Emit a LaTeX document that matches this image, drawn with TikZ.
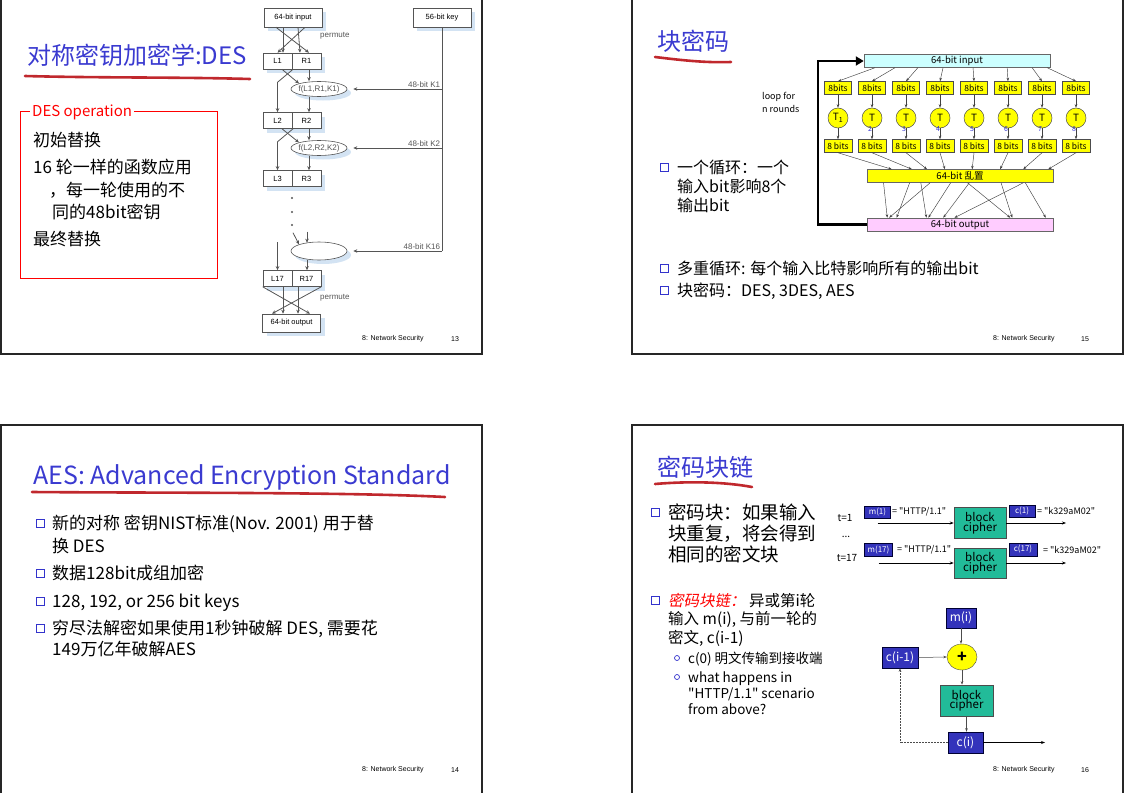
\documentclass[tikz,border=0pt]{standalone}
\usepackage{fontspec}
\setmainfont{Noto Sans CJK SC}
\newfontfamily\arialf{Liberation Sans}
\newfontfamily\qtf{Noto Sans CJK SC}
\newfontfamily\cjkit[FakeSlant=0.2]{Noto Sans CJK SC}
\usetikzlibrary{arrows.meta,shapes.geometric,shadows,calc}
\definecolor{TitleBlue}{HTML}{3A3AD0}
\definecolor{ULRed}{HTML}{C0282D}
\definecolor{BulBlue}{HTML}{3333CC}
\definecolor{DesShadow}{HTML}{D3E3F3}
\definecolor{DesLine}{HTML}{555555}
\definecolor{BoxYellow}{HTML}{FFFF00}
\definecolor{BoxCyan}{HTML}{CCFFFF}
\definecolor{BoxPink}{HTML}{FFCCFF}
\definecolor{CipherGreen}{HTML}{22BB99}
\definecolor{MsgBlue}{HTML}{3333BB}

\tikzset{
  slideframe/.style={draw=black!85,line width=1.8pt},
  slidetitle/.style={anchor=base west,inner sep=0,text=TitleBlue,font=\fontsize{24}{28}\selectfont},
  titleline/.style={draw=ULRed,line width=2.6pt,line cap=round},
  bodytext/.style={anchor=base west,inner sep=0,font=\fontsize{17}{20}\selectfont},
  bulletsq/.style={draw=BulBlue,fill=white,line width=0.9pt,minimum size=8pt,inner sep=0,
    drop shadow={shadow xshift=1.4pt,shadow yshift=-1.4pt,fill=BulBlue,opacity=1}},
  subbullet/.style={circle,draw=BulBlue,line width=0.7pt,minimum size=5pt,inner sep=0},
  footer/.style={inner sep=0,font=\arialf\fontsize{7}{8}\selectfont},
  % DES flow
  desbox/.style={draw=DesLine,fill=white,line width=0.6pt,inner sep=0,minimum height=17pt,
    font=\arialf\fontsize{7.5}{9}\selectfont,
    drop shadow={shadow xshift=4pt,shadow yshift=-4pt,fill=DesShadow,opacity=1}},
  desell/.style={ellipse,desbox,minimum width=56pt},
  desarr/.style={draw=DesLine,line width=0.8pt,-{Stealth[length=4pt,width=3.5pt]}},
  desline/.style={draw=DesLine,line width=0.8pt},
  deslabel/.style={inner sep=1.5pt,font=\arialf\fontsize{8}{9}\selectfont,text=DesLine},
  % block cipher rounds
  bitbox/.style={draw=black!70,fill=BoxYellow,line width=0.5pt,inner sep=0,minimum width=27pt,
    minimum height=13pt,font=\fontsize{8.5}{9}\selectfont},
  tcirc/.style={circle,draw=black!70,fill=BoxYellow,line width=0.5pt,minimum size=20pt,inner sep=0,
    font=\fontsize{10}{10}\selectfont},
  tnum/.style={inner sep=0,text=BulBlue,font=\fontsize{7}{7}\selectfont},
  wideband/.style={draw=black!60,line width=0.5pt,inner sep=0,minimum width=186pt,minimum height=13pt,
    font=\fontsize{9.5}{10}\selectfont},
  tarr/.style={draw=black!75,line width=0.45pt,-{Stealth[length=3.5pt,width=2.5pt]}},
  looparr/.style={draw=black,line width=2.6pt,-{Triangle[length=8pt,width=9pt]}},
  % CBC
  msgbox/.style={draw=black!80!blue,fill=MsgBlue,text=white,inner sep=0,line width=0.5pt,
    font=\fontsize{8}{9}\selectfont},
  cipherbox/.style={draw=black!70,fill=CipherGreen,line width=0.6pt,inner sep=0,align=center,
    font=\fontsize{11.5}{9.5}\selectfont},
  valtext/.style={anchor=west,inner sep=0,font=\qtf\fontsize{9}{10}\selectfont},
  cbcarr/.style={draw=black,line width=0.8pt,-{Stealth[length=4pt,width=3pt]}},
  thinarr/.style={draw=black!70,line width=0.5pt,-{Stealth[length=3.5pt,width=2.5pt]}}
}

\begin{document}
\begin{tikzpicture}[x=1pt,y=-1pt]
\path[use as bounding box] (0,0) rectangle (1126,792);

% ---- slide 13
\draw[slideframe] (1,-10) rectangle (482,354);
\node[slidetitle] (title13) at (27,64) {对称密钥加密学:DES};
\draw[titleline] (25,76) .. controls (100,78) and (180,77) .. (250,79);
\draw[red,line width=0.9pt] (20,111) rectangle (217,278);
\node[anchor=west,fill=white,inner xsep=2pt,inner ysep=1pt,text=red,font=\fontsize{15}{16}\selectfont] (opname) at (30,112) {DES operation};
\node[bodytext] (op1) at (33,146) {初始替换};
\node[bodytext] (op2) at (33,173) {16 轮一样的函数应用};
\node[bodytext] (op3) at (49,196) {，每一轮使用的不};
\node[bodytext] (op4) at (52,218) {同的48bit密钥};
\node[bodytext] (op5) at (33,245) {最终替换};

\node[desbox,minimum width=58pt,minimum height=19pt] (din) at (293,17.5) {64-bit input};
\node[desbox,minimum width=58pt,minimum height=19pt] (dkey) at (442,17.5) {56-bit key};
\foreach \rn/\yy in {1/61,2/120.5,3/178.5,17/278.5}{
  \node[desbox,minimum width=29pt,minimum height=16pt] (L\rn) at (277.5,\yy) {L\rn};
  \node[desbox,minimum width=29pt,minimum height=16pt] (R\rn) at (306.5,\yy) {R\rn};
}
\draw[desline] (dkey.south) -- (dkey.south |- 0,251);
\foreach \rn/\yy/\nx in {1/89/2,2/148/3}{
  \node[desell,minimum height=15pt,label={[deslabel,inner sep=0]center:{f(L\rn,R\rn,K\rn)}}] (f\rn) at (319,\yy) {};
  \draw[desarr] ([xshift=2.5pt]R\rn.south) -- ([xshift=-10pt]f\rn.north);
  \draw[desarr] ([xshift=4.5pt]L\rn.south) -- (f\rn.north west);
  \draw[desarr] ([xshift=-13.5pt]R\rn.south) -- ([yshift=-13pt]L\rn.south) -- (L\nx.north);
  \draw[desarr] ([xshift=-10pt]f\rn.south) -- ([xshift=2.5pt]R\nx.north);
  \draw[desarr] (dkey.south |- f\rn.east) node[deslabel,anchor=south east] (k\rn) {48-bit K\rn} -- ([xshift=6pt]f\rn.east);
}
\node[desell,minimum height=18pt] (f16) at (319,251) {};
\draw[desarr] (dkey.south |- f16.east) node[deslabel,anchor=south east] (k16) {48-bit K16} -- ([xshift=6pt]f16.east);
\foreach \yy in {198,212,225} \fill[DesLine] (292,\yy) circle (1.1pt);
\draw[desarr] ([xshift=-26pt,yshift=9pt]f16.north) -- (f16.north west);
\draw[desarr] ([xshift=-12pt,yshift=10pt]f16.north) -- ([xshift=-12pt,yshift=-1pt]f16.north);
\draw[desarr] ([yshift=28pt]L17.north) -- (L17.north);
\draw[desarr] ([xshift=-12pt]f16.south) -- ([xshift=0.5pt]R17.north);
\node[desbox,minimum width=58pt,minimum height=18pt] (dout) at (291.5,323) {64-bit output};
% permutations
\draw[desarr] ([xshift=-17pt]din.south) -- ([xshift=2.5pt]R1.north);
\draw[desarr] ([xshift=12pt]din.south) -- (L1.north);
\draw[desarr] ([xshift=-10pt]din.south) -- ([xshift=5.5pt]L1.north);
\draw[desarr] ([xshift=5pt]din.south) -- ([xshift=-6.5pt]R1.north);
\draw[desarr] (L17.south west) -- ([xshift=18.5pt]dout.north);
\draw[desarr] (R17.south east) -- ([xshift=-19.5pt]dout.north);
\draw[desarr] ([xshift=5.5pt]L17.south) -- ([xshift=-8.5pt]dout.north);
\draw[desarr] ([xshift=-8.5pt]R17.south) -- ([xshift=6.5pt]dout.north);
\node[deslabel,anchor=west,inner sep=0] (perm1) at (320,36) {permute};
\node[deslabel,anchor=west,inner sep=0] (perm2) at (320,298) {permute};
\node[footer,anchor=west] (foot13) at (362,339) {8: Network Security};
\node[footer] (num13) at (455,339) {13};

% ---- slide 15
\draw[slideframe] (632,-10) rectangle (1123,354);
\node[slidetitle] (title15) at (657,51) {块密码};
\draw[titleline] (655,57) .. controls (680,60) and (705,63) .. (731,62);
\node[anchor=west,inner sep=0,align=left,font=\fontsize{9}{13}\selectfont] (loopnote) at (762,102.5) {loop for\\n rounds};
\node[wideband,fill=BoxCyan] (inp) at (957,61) {64-bit input};
\foreach \i in {1,...,8}{
  \node[bitbox] (inb\i) at ({838+34*(\i-1)},88) {8bits};
  \node[tcirc] (tf\i) at ({838+34*(\i-1)},118) {\ifnum\i=1 T\textsubscript{1}\else T\fi};
  \ifnum\i>1 \node[tnum] (tn\i) at ({836+34*(\i-1)},129) {\i};\fi
  \node[bitbox,minimum width=28pt] (outb\i) at ({838+34*(\i-1)},146) {8 bits};
  \draw[tarr] (inb\i) -- (tf\i);
  \draw[tarr] (tf\i) -- (outb\i);
}
\node[wideband,fill=BoxYellow] (mix) at (960,176) {64-bit 乱置};
\node[wideband,fill=BoxPink] (outp) at (960,224.5) {64-bit output};
\foreach \i/\f in {1/0.06,2/0.167,3/0.29,4/0.425,5/0.586,6/0.769,7/0.903,8/0.984}
  \draw[tarr] ($(inp.south west)!\f!(inp.south east)$) -- (inb\i.north);
\foreach \i/\f in {1/0.134,2/0.242,3/0.323,4/0.419,5/0.565,6/0.715,7/0.839,8/0.973}
  \draw[tarr] (outb\i.south) -- ($(mix.north west)!\f!(mix.north east)$);
\foreach \s/\e in {0.09/0.11,0.23/0.16,0.29/0.32,0.34/0.12,0.45/0.33,0.54/0.77,0.55/0.41,0.72/0.78,0.84/0.47,0.85/0.96}
  \draw[tarr] ($(mix.south west)!\s!(mix.south east)$) -- ($(outp.north west)!\e!(outp.north east)$);
\coordinate (loopx) at (818,224.5);
\draw[looparr] (outp.west) -- (loopx) -- (loopx |- inp.west) -- (inp.west);
\node[bulletsq] (bq1) at (664,167) {};
\node[bodytext,font=\fontsize{16}{18}\selectfont] (q1a) at (677,173) {一个循环：一个};
\node[bodytext,font=\fontsize{16}{18}\selectfont] (q1b) at (677,192) {输入bit影响8个};
\node[bodytext,font=\fontsize{16}{18}\selectfont] (q1c) at (677,211) {输出bit};
\node[bulletsq] (bq2) at (664,268) {};
\node[bodytext,font=\fontsize{16}{18}\selectfont] (q2) at (677,274) {多重循环: 每个输入比特影响所有的输出bit};
\node[bulletsq] (bq3) at (664,290) {};
\node[bodytext,font=\fontsize{16}{18}\selectfont] (q3) at (677,296) {块密码：DES, 3DES, AES};
\node[footer,anchor=west] (foot15) at (993,339) {8: Network Security};
\node[footer] (num15) at (1085,339) {15};

% ---- slide 14
\draw[slideframe] (1,425) rectangle (482,800);
\node[slidetitle,font=\fontsize{25}{28}\selectfont] (title14) at (33,484) {AES: Advanced Encryption Standard};
\draw[titleline] (32,492) .. controls (150,493) and (350,492) .. (445,497);
\foreach \yy/\nm in {523/1,573/2,601/3,628/4} \node[bulletsq] (ba\nm) at (40,\yy) {};
\node[bodytext] (a1) at (52,529.5) {新的对称 密钥NIST标准(Nov. 2001) 用于替};
\node[bodytext] (a2) at (52,552.5) {换 DES};
\node[bodytext] (a3) at (52,579.5) {数据128bit成组加密};
\node[bodytext] (a4) at (52,607.5) {128, 192, or 256 bit keys};
\node[bodytext] (a5) at (52,634.5) {穷尽法解密如果使用1秒钟破解 DES, 需要花};
\node[bodytext] (a6) at (52,655.5) {149万亿年破解AES};
\node[footer,anchor=west] (foot14) at (362,770) {8: Network Security};
\node[footer] (num14) at (455,770) {14};

% ---- slide 16
\draw[slideframe] (632,425) rectangle (1123,800);
\node[slidetitle] (title16) at (657,476) {密码块链};
\draw[titleline] (655,484) .. controls (690,481) and (725,482) .. (752,487);
\node[bulletsq] (bc1q) at (655,512) {};
\node[bodytext,font=\fontsize{18.5}{20}\selectfont] (cb1) at (668,519) {密码块：如果输入};
\node[bodytext,font=\fontsize{18.5}{20}\selectfont] (cb2) at (668,540) {块重复，将会得到};
\node[bodytext,font=\fontsize{18.5}{20}\selectfont] (cb3) at (668,561) {相同的密文块};
\node[bulletsq] (bc2q) at (655,600) {};
\node[bodytext,font=\fontsize{15.5}{18}\selectfont] (cb4) at (668,606) {{\cjkit\color{red}密码块链：}\ 异或第i轮};
\node[bodytext,font=\fontsize{15.5}{18}\selectfont] (cb5) at (668,624) {输入 m(i), 与前一轮的};
\node[bodytext,font=\fontsize{15.5}{18}\selectfont] (cb6) at (668,643) {密文, c(i-1)};
\node[subbullet] (sb1) at (677,658) {};
\node[subbullet] (sb2) at (677,677) {};
\node[bodytext,font=\fontsize{13.5}{16}\selectfont] (cb7) at (688,663) {c(0) 明文传输到接收端};
\node[bodytext,font=\fontsize{13.5}{16}\selectfont] (cb8) at (688,682) {what happens in};
\node[bodytext,font=\qtf\fontsize{13.5}{16}\selectfont] (cb9) at (688,698) {"HTTP/1.1" scenario};
\node[bodytext,font=\fontsize{13.5}{16}\selectfont] (cb10) at (688,714) {from above?};

\node[inner sep=0,font=\fontsize{10}{11}\selectfont] (tone) at (845,518) {t=1};
\node[inner sep=0,font=\fontsize{10}{11}\selectfont] (tdots) at (846,537) {...};
\node[inner sep=0,font=\fontsize{10}{11}\selectfont] (tseventeen) at (847,558) {t=17};
\node[msgbox,minimum width=26pt,minimum height=12pt] (m1) at (877.5,512.5) {m(1)};
\node[valtext] (m1val) at (892,512) {= "HTTP/1.1"};
\node[cipherbox,minimum width=52pt,minimum height=31pt] (bc1) at (980,523) {block\\cipher};
\node[msgbox,minimum width=26pt,minimum height=12pt] (c1) at (1022,511.5) {c(1)};
\node[valtext] (c1val) at (1037,511) {= "k329aM02"};
\coordinate (o1) at (1066,523);
\draw[cbcarr] (m1.south |- bc1.west) -- (bc1.west);
\draw[cbcarr] (bc1.east) -- (o1);
\node[msgbox,minimum width=28pt,minimum height=13pt] (m17) at (878.5,550) {m(17)};
\node[valtext] (m17val) at (897,550) {= "HTTP/1.1"};
\node[cipherbox,minimum width=52pt,minimum height=30pt] (bc17) at (980,563) {block\\cipher};
\node[msgbox,minimum width=28pt,minimum height=13pt] (c17) at (1023,549.5) {c(17)};
\node[valtext] (c17val) at (1043,550) {= "k329aM02"};
\coordinate (o17) at (1066,563);
\draw[cbcarr] (m17.south |- bc17.west) -- (bc17.west);
\draw[cbcarr] (bc17.east) -- (o17);

\node[msgbox,minimum width=30pt,minimum height=20pt,font=\fontsize{12}{13}\selectfont] (mi) at (961,618) {m(i)};
\node[ellipse,draw=black!70,fill=BoxYellow,minimum width=30pt,minimum height=26pt,inner sep=0,font=\fontsize{16}{16}\selectfont\bfseries] (xor) at (962,657) {+};
\node[msgbox,minimum width=36pt,minimum height=21pt,font=\fontsize{12}{13}\selectfont] (cprev) at (900,657.5) {c(i-1)};
\node[cipherbox,minimum width=53pt,minimum height=31pt] (bcx) at (966.5,700.5) {block\\cipher};
\node[msgbox,minimum width=35pt,minimum height=21pt,font=\fontsize{12}{13}\selectfont] (ci) at (965.5,742.5) {c(i)};
\coordinate (cout) at (1045,742.5);
\draw[thinarr] (mi.south) -- (mi.south |- xor.north);
\draw[thinarr] (cprev.east) -- (xor.west);
\draw[thinarr] (xor.south) -- (xor.south |- bcx.north);
\draw[thinarr] (bcx.south) -- (bcx.south |- ci.north);
\draw[cbcarr,line width=1.3pt] (ci.east) -- (cout);
\draw[thinarr,densely dotted] (ci.west) -- (cprev.south |- ci.west) -- (cprev.south);
\node[footer,anchor=west] (foot16) at (993,770) {8: Network Security};
\node[footer] (num16) at (1085,770) {16};
\end{tikzpicture}
\end{document}
